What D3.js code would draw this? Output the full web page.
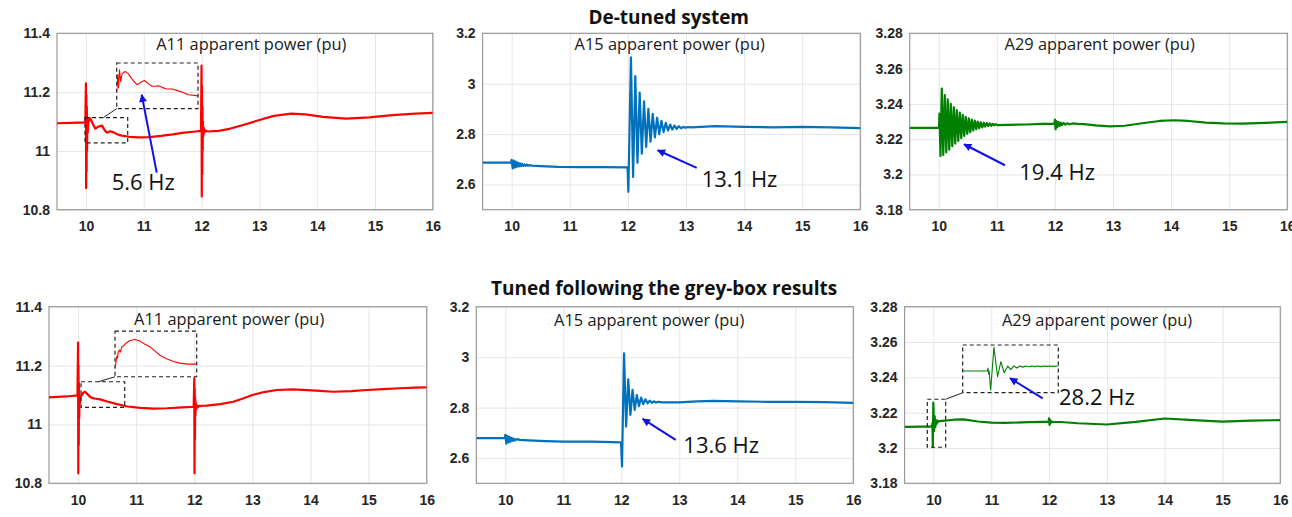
<!DOCTYPE html>
<html>
<head>
<meta charset="utf-8">
<script src="https://cdn.jsdelivr.net/npm/d3@7"></script>
<style>
  body { margin: 0; background: #fff; }
  svg { display: block; }
</style>
</head>
<body>
<svg id="chart" width="1292" height="517"></svg>
<script>
// axis ticks
const timeTicks = [10, 11, 12, 13, 14, 15, 16];
const a11Ticks = [10.8, 11, 11.2, 11.4];
const a15Ticks = [2.6, 2.8, 3, 3.2];
const a29Ticks = [3.18, 3.2, 3.22, 3.24, 3.26, 3.28];

const rowTitles = ["De-tuned system", "Tuned following the grey-box results"];
const panelTitles = ["A11 apparent power (pu)", "A15 apparent power (pu)", "A29 apparent power (pu)"];
const modeLabels = ["5.6 Hz", "13.1 Hz", "19.4 Hz", "13.6 Hz", "28.2 Hz"];

// [time (s), apparent power (pu)]
const a11Detuned = [
  [9.5, 11.094], [9.75, 11.095], [9.99, 11.097],
  [10.0, 11.23], [10.004, 10.873], [10.008, 11.19], [10.012, 10.93], [10.016, 11.15], [10.02, 11.0],
  [10.025, 11.11], [10.03, 11.06], [10.045, 11.10], [10.07, 11.112], [10.12, 11.092], [10.16, 11.076],
  [10.22, 11.083], [10.28, 11.086], [10.32, 11.072], [10.36, 11.062], [10.42, 11.067], [10.48, 11.063],
  [10.55, 11.056], [10.62, 11.052], [10.75, 11.048], [10.91, 11.046], [11.1, 11.047], [11.3, 11.051],
  [11.5, 11.056], [11.7, 11.062], [11.9, 11.066], [11.99, 11.068],
  [12.0, 11.29], [12.004, 10.845], [12.008, 11.22], [12.012, 10.92], [12.016, 11.15], [12.02, 11.0],
  [12.025, 11.10], [12.03, 11.05], [12.04, 11.078], [12.05, 11.062], [12.06, 11.07], [12.1, 11.066],
  [12.3, 11.068], [12.5, 11.076], [12.75, 11.09], [13.0, 11.105], [13.25, 11.119], [13.55, 11.127],
  [13.8, 11.124], [14.1, 11.116], [14.5, 11.110], [14.9, 11.114], [15.3, 11.122], [15.7, 11.127], [16.0, 11.129]
];
const a11DetunedZoom = [
  [9.984, 11.059], [9.992, 11.091], [10.0, 11.066], [10.009, 11.100], [10.02, 11.078], [10.033, 11.093],
  [10.06, 11.097], [10.088, 11.093], [10.125, 11.082], [10.168, 11.072], [10.198, 11.076], [10.235, 11.080],
  [10.271, 11.074], [10.305, 11.069], [10.335, 11.069], [10.363, 11.070], [10.396, 11.067], [10.436, 11.064],
  [10.49, 11.064], [10.564, 11.059], [10.637, 11.053], [10.723, 11.051]
];

const a15Detuned = [
  [9.5, 2.687], [9.99, 2.687], [10.0, 2.698], [10.018, 2.664], [10.036, 2.695], [10.054, 2.667],
  [10.072, 2.691], [10.09, 2.670], [10.108, 2.687], [10.126, 2.672], [10.144, 2.684], [10.162, 2.673],
  [10.18, 2.682], [10.2, 2.674], [10.22, 2.680], [10.24, 2.674], [10.26, 2.679], [10.28, 2.674],
  [10.3, 2.677], [10.35, 2.675], [10.5, 2.673], [10.8, 2.670], [11.2, 2.669], [11.6, 2.669], [11.995, 2.668],
  [12.008, 2.571], [12.053, 3.105], [12.09, 2.630], [12.128, 3.03], [12.165, 2.686], [12.203, 2.965],
  [12.24, 2.722], [12.278, 2.93], [12.315, 2.749], [12.353, 2.90], [12.39, 2.77], [12.428, 2.88],
  [12.465, 2.787], [12.503, 2.865], [12.54, 2.80], [12.578, 2.853], [12.615, 2.808], [12.653, 2.845],
  [12.69, 2.814], [12.728, 2.838], [12.765, 2.818], [12.803, 2.834], [12.84, 2.821], [12.878, 2.831],
  [12.915, 2.823], [12.953, 2.829], [12.99, 2.825], [13.03, 2.828], [13.1, 2.827],
  [13.5, 2.832], [14.0, 2.829], [14.5, 2.827], [15.0, 2.829], [15.5, 2.827], [16.0, 2.824]
];

const a29Detuned = [
  [9.5, 3.2264], [9.9, 3.2264], [10.005, 3.2264], [10.012, 3.2345], [10.030, 3.2104], [10.052, 3.2487],
  [10.078, 3.2110], [10.104, 3.2450], [10.130, 3.2125], [10.155, 3.2425], [10.181, 3.2140], [10.207, 3.2400],
  [10.233, 3.2160], [10.259, 3.2381], [10.284, 3.2175], [10.310, 3.2365], [10.336, 3.2190], [10.362, 3.2350],
  [10.388, 3.2205], [10.413, 3.2338], [10.439, 3.2218], [10.465, 3.2327], [10.491, 3.2230], [10.517, 3.2318],
  [10.542, 3.2240], [10.568, 3.2311], [10.594, 3.2249], [10.620, 3.2305], [10.646, 3.2256], [10.671, 3.2300],
  [10.697, 3.2262], [10.723, 3.2296], [10.749, 3.2267], [10.775, 3.2293], [10.800, 3.2271], [10.826, 3.2291],
  [10.852, 3.2274], [10.878, 3.2289], [10.904, 3.2276], [10.930, 3.2287], [10.955, 3.2278], [10.981, 3.2285],
  [11.007, 3.2280], [11.2, 3.2281], [11.5, 3.2283], [11.8, 3.2286], [11.99, 3.2288],
  [12.0, 3.2311], [12.01, 3.2256], [12.025, 3.2302], [12.04, 3.2268], [12.06, 3.2298], [12.08, 3.2275],
  [12.1, 3.2294], [12.12, 3.2279], [12.15, 3.2292], [12.18, 3.2282], [12.21, 3.2290], [12.25, 3.2284],
  [12.3, 3.2289], [12.4, 3.2286], [12.5, 3.2285], [12.7, 3.2278], [12.95, 3.2272], [13.2, 3.2276],
  [13.5, 3.2290], [13.8, 3.2303], [14.05, 3.2307], [14.3, 3.2303], [14.6, 3.2294], [14.9, 3.2289],
  [15.2, 3.2288], [15.5, 3.2291], [15.8, 3.2295], [16.0, 3.2298]
];

const a11Tuned = [
  [9.5, 11.092], [9.8, 11.095], [9.99, 11.099],
  [10.0, 11.278], [10.004, 10.834], [10.008, 11.20], [10.012, 10.93], [10.016, 11.14], [10.02, 11.02],
  [10.025, 11.10], [10.03, 11.07], [10.04, 11.095], [10.06, 11.098], [10.09, 11.108], [10.12, 11.111],
  [10.16, 11.103], [10.22, 11.092], [10.28, 11.088], [10.38, 11.085], [10.5, 11.078], [10.67, 11.069],
  [10.85, 11.061], [11.07, 11.056], [11.3, 11.054], [11.53, 11.055], [11.8, 11.058], [11.99, 11.060],
  [12.0, 11.157], [12.004, 10.834], [12.008, 11.12], [12.012, 10.95], [12.016, 11.09], [12.02, 11.03],
  [12.025, 11.075], [12.03, 11.05], [12.04, 11.066], [12.06, 11.058], [12.08, 11.063], [12.21, 11.064],
  [12.45, 11.069], [12.67, 11.077], [12.85, 11.089], [13.0, 11.10], [13.2, 11.11], [13.42, 11.117],
  [13.7, 11.119], [14.1, 11.115], [14.39, 11.111], [14.7, 11.113], [14.97, 11.117], [15.25, 11.120],
  [15.54, 11.123], [15.8, 11.125], [16.0, 11.126]
];
const a11TunedZoom = [
  [10.051, 11.074], [10.06, 11.086], [10.067, 11.097], [10.074, 11.094], [10.081, 11.105], [10.092, 11.109],
  [10.101, 11.105], [10.113, 11.115], [10.124, 11.116], [10.152, 11.122], [10.189, 11.127], [10.235, 11.129],
  [10.281, 11.126], [10.327, 11.120], [10.373, 11.115], [10.419, 11.107], [10.465, 11.099], [10.52, 11.093],
  [10.588, 11.087], [10.649, 11.084], [10.711, 11.082], [10.803, 11.082]
];

const a15Tuned = [
  [9.5, 2.679], [9.99, 2.679], [10.0, 2.692], [10.018, 2.657], [10.036, 2.688], [10.054, 2.662],
  [10.072, 2.684], [10.09, 2.665], [10.11, 2.680], [10.13, 2.668], [10.15, 2.677], [10.17, 2.670],
  [10.2, 2.675], [10.25, 2.672], [10.4, 2.670], [10.7, 2.667], [11.0, 2.665], [11.5, 2.665], [11.995, 2.662],
  [12.012, 2.567], [12.047, 3.015], [12.083, 2.725], [12.12, 2.912], [12.157, 2.771], [12.194, 2.870],
  [12.231, 2.791], [12.268, 2.850], [12.305, 2.806], [12.342, 2.840], [12.379, 2.814], [12.416, 2.833],
  [12.453, 2.817], [12.49, 2.828], [12.527, 2.819], [12.564, 2.825], [12.60, 2.820], [12.64, 2.823],
  [12.7, 2.821], [13.0, 2.821], [13.3, 2.825], [13.6, 2.827], [14.0, 2.825], [14.5, 2.823], [15.0, 2.823],
  [15.5, 2.822], [16.0, 2.819]
];

const a29Tuned = [
  [9.5, 3.2120], [9.8, 3.2121], [9.975, 3.2122], [9.98, 3.2140], [9.983, 3.2110], [9.988, 3.2004],
  [9.997, 3.2257], [10.009, 3.2095], [10.02, 3.2181], [10.031, 3.2118], [10.043, 3.2156], [10.053, 3.2136],
  [10.063, 3.2156], [10.075, 3.2146], [10.1, 3.2152], [10.2, 3.2155], [10.35, 3.2160], [10.52, 3.2162],
  [10.77, 3.2150], [11.0, 3.2144], [11.24, 3.2142], [11.64, 3.2146], [11.9, 3.2148], [11.99, 3.2149],
  [12.0, 3.2168], [12.008, 3.2130], [12.016, 3.2160], [12.025, 3.2140], [12.035, 3.2152], [12.05, 3.2147],
  [12.2, 3.2147], [12.5, 3.2140], [13.0, 3.2133], [13.5, 3.2148], [14.0, 3.2167], [14.5, 3.2158],
  [15.0, 3.2149], [15.5, 3.2155], [16.0, 3.2158]
];
const a29TunedZoom = [
  [9.893, 3.2128], [9.975, 3.2128], [9.977, 3.2145], [9.979, 3.2111], [9.981, 3.2128], [9.986, 3.2019],
  [9.997, 3.2263], [10.009, 3.2095], [10.02, 3.2181], [10.031, 3.2118], [10.043, 3.2156], [10.053, 3.2136],
  [10.063, 3.2157], [10.073, 3.2145], [10.083, 3.2156], [10.093, 3.2150], [10.103, 3.2156], [10.113, 3.2152],
  [10.123, 3.2156], [10.133, 3.2153], [10.143, 3.2156], [10.153, 3.2153], [10.163, 3.2156], [10.173, 3.2154],
  [10.183, 3.2156], [10.193, 3.2154], [10.211, 3.2156]
];

const RED = "#ff0000", BLUE = "#0072bd", GREEN = "#008000", ARROW = "#1010e8";

// layout: plot box in px, annotation anchors in data units
const panels = [
  { box: [57, 33.3, 432.8, 209.7], yDomain: [10.8, 11.4], yTicks: a11Ticks, series: a11Detuned, color: RED,
    title: panelTitles[0], titleT: 12.86, titleDy: 16.7,
    mode: { text: modeLabels[0], at: [10.446, 10.866], from: [11.225, 10.926], to: [10.965, 11.191] },
    inset: { src: [9.984, 10.723, 11.027, 11.113], dst: [10.533, 11.939, 11.144, 11.299], linkT: 10.30, series: a11DetunedZoom } },
  { box: [482.6, 33.3, 860.3, 209.7], yDomain: [2.5, 3.2], yTicks: a15Ticks, series: a15Detuned, color: BLUE,
    title: panelTitles[1], titleT: 12.72, titleDy: 17,
    mode: { text: modeLabels[1], at: [13.27, 2.591], from: [13.185, 2.666], to: [12.514, 2.736] } },
  { box: [909.7, 33.3, 1287.3, 209.7], yDomain: [3.18, 3.28], yTicks: a29Ticks, series: a29Detuned, color: GREEN,
    title: panelTitles[2], titleT: 12.77, titleDy: 16.2,
    mode: { text: modeLabels[2], at: [11.386, 3.1966], from: [11.14, 3.2052], to: [10.435, 3.2171] } },
  { box: [49, 306.7, 426.7, 483.3], yDomain: [10.8, 11.4], yTicks: a11Ticks, series: a11Tuned, color: RED,
    title: panelTitles[0], titleT: 12.6, titleDy: 18.5,
    inset: { src: [10.051, 10.803, 11.058, 11.145], dst: [10.636, 12.042, 11.162, 11.317], linkT: 10.349, series: a11TunedZoom } },
  { box: [476.3, 306.7, 853.3, 483.3], yDomain: [2.5, 3.2], yTicks: a15Ticks, series: a15Tuned, color: BLUE,
    title: panelTitles[1], titleT: 12.48, titleDy: 19,
    mode: { text: modeLabels[3], at: [13.069, 2.619], from: [12.938, 2.672], to: [12.369, 2.755] } },
  { box: [904.6, 306.7, 1280.3, 483.3], yDomain: [3.18, 3.28], yTicks: a29Ticks, series: a29Tuned, color: GREEN,
    title: panelTitles[2], titleT: 12.83, titleDy: 19.5,
    mode: { text: modeLabels[4], at: [12.171, 3.2243], from: [11.889, 3.2281], to: [11.324, 3.2395] },
    inset: { src: [9.893, 10.211, 3.2004, 3.2276], dst: [10.505, 12.159, 3.2313, 3.2583], linkT: 10.211, linkV: 3.2276, series: a29TunedZoom } }
];
const rowTitlePos = [[668.7, 24], [664.2, 294.5]];

const svg = d3.select("#chart");
const defs = svg.append("defs");
defs.append("marker")
    .attr("id", "arrowhead")
    .attr("viewBox", "0 0 10 10")
    .attr("refX", 9).attr("refY", 5)
    .attr("markerWidth", 10).attr("markerHeight", 8)
    .attr("markerUnits", "userSpaceOnUse")
    .attr("orient", "auto")
  .append("path")
    .attr("d", "M0,0 L10,5 L0,10 Z")
    .attr("fill", ARROW);

const fmt = d => String(+d.toFixed(2));

panels.forEach(function(p, i) {
  const [x0, y0, x1, y1] = p.box;
  const x = d3.scaleLinear().domain([9.5, 16]).range([x0, x1]);
  const y = d3.scaleLinear().domain(p.yDomain).range([y1, y0]);
  const g = svg.append("g");

  // grid + tick labels
  const xAxis = g.append("g")
      .attr("transform", "translate(0," + y1 + ")")
      .call(d3.axisBottom(x).tickValues(timeTicks).tickSize(-(y1 - y0)).tickPadding(11.5).tickFormat(d3.format("d")));
  const yAxis = g.append("g")
      .attr("transform", "translate(" + x0 + ",0)")
      .call(d3.axisLeft(y).tickValues(p.yTicks).tickSize(-(x1 - x0)).tickPadding(7).tickFormat(fmt));
  [xAxis, yAxis].forEach(function(a) {
    a.select(".domain").remove();
    a.selectAll(".tick line").attr("stroke", "#e6e6e6").attr("stroke-width", 1);
    a.selectAll(".tick text")
      .attr("fill", "#262626")
      .style("font-family", "'Liberation Sans', Arial, sans-serif")
      .style("font-weight", "bold")
      .style("font-size", "14px");
  });

  g.append("rect")
    .attr("x", x0).attr("y", y0).attr("width", x1 - x0).attr("height", y1 - y0)
    .attr("fill", "none").attr("stroke", "#9a9a9a").attr("stroke-width", 1.2);

  // main trace
  const clipId = "clip" + i;
  defs.append("clipPath").attr("id", clipId)
    .append("rect").attr("x", x0).attr("y", y0).attr("width", x1 - x0).attr("height", y1 - y0);
  const line = d3.line().x(d => x(d[0])).y(d => y(d[1]));
  g.append("path")
    .datum(p.series)
    .attr("clip-path", "url(#" + clipId + ")")
    .attr("d", line)
    .attr("fill", "none")
    .attr("stroke", p.color)
    .attr("stroke-width", 2.2)
    .attr("stroke-linejoin", "round");

  // panel title
  g.append("text")
    .attr("x", x(p.titleT)).attr("y", y0 + p.titleDy)
    .attr("text-anchor", "middle")
    .style("font-family", "'Open Sans', sans-serif")
    .style("font-size", "16.4px")
    .attr("fill", "#1a1a1a")
    .text(p.title);

  // zoom inset
  if (p.inset) {
    const s = p.inset;
    const dash = g.append("g").attr("fill", "none").attr("stroke", "#222").attr("stroke-width", 1.2).attr("stroke-dasharray", "4,3");
    [s.src, s.dst].forEach(function(b) {
      dash.append("rect")
        .attr("x", x(b[0])).attr("y", y(b[3]))
        .attr("width", x(b[1]) - x(b[0])).attr("height", y(b[2]) - y(b[3]));
    });
    g.append("line")
      .attr("x1", x(s.linkT)).attr("y1", y(s.linkV !== undefined ? s.linkV : s.src[3]))
      .attr("x2", x(s.dst[0])).attr("y2", y(s.dst[2]))
      .attr("stroke", "#222").attr("stroke-width", 1);
    const xi = d3.scaleLinear().domain([s.src[0], s.src[1]]).range([x(s.dst[0]), x(s.dst[1])]);
    const yi = d3.scaleLinear().domain([s.src[2], s.src[3]]).range([y(s.dst[2]), y(s.dst[3])]);
    const insetClip = "inset" + i;
    defs.append("clipPath").attr("id", insetClip)
      .append("rect").attr("x", x(s.dst[0])).attr("y", y(s.dst[3]))
      .attr("width", x(s.dst[1]) - x(s.dst[0])).attr("height", y(s.dst[2]) - y(s.dst[3]));
    g.append("path")
      .datum(s.series)
      .attr("clip-path", "url(#" + insetClip + ")")
      .attr("d", d3.line().x(d => xi(d[0])).y(d => yi(d[1])))
      .attr("fill", "none")
      .attr("stroke", p.color)
      .attr("stroke-width", 1.1)
      .attr("stroke-linejoin", "round");
  }

  // oscillation mode label + arrow
  if (p.mode) {
    const m = p.mode;
    g.append("line")
      .attr("x1", x(m.from[0])).attr("y1", y(m.from[1]))
      .attr("x2", x(m.to[0])).attr("y2", y(m.to[1]))
      .attr("stroke", ARROW).attr("stroke-width", 2)
      .attr("marker-end", "url(#arrowhead)");
    g.append("text")
      .attr("x", x(m.at[0])).attr("y", y(m.at[1]))
      .style("font-family", "'Open Sans', sans-serif")
      .style("font-size", "22px")
      .attr("fill", "#111")
      .text(m.text);
  }
});

rowTitles.forEach(function(t, i) {
  svg.append("text")
    .attr("x", rowTitlePos[i][0]).attr("y", rowTitlePos[i][1])
    .attr("text-anchor", "middle")
    .style("font-family", "'Open Sans', sans-serif")
    .style("font-weight", "bold")
    .style("font-size", "19px")
    .attr("fill", "#111")
    .text(t);
});
</script>
</body>
</html>
